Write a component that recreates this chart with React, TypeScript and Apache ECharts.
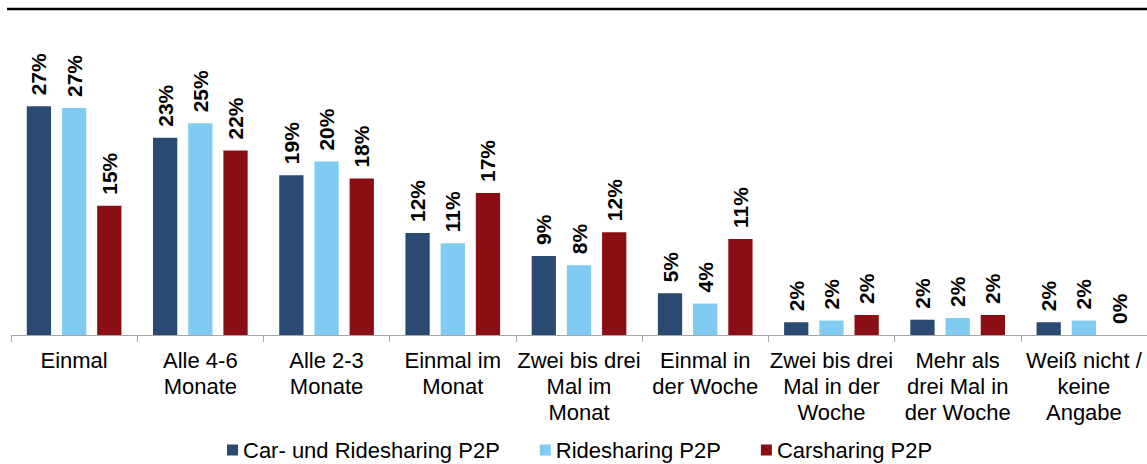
import React, { useEffect, useRef } from "react";
import * as echarts from "echarts";

const categories = [
  "Einmal",
  "Alle 4-6\nMonate",
  "Alle 2-3\nMonate",
  "Einmal im\nMonat",
  "Zwei bis drei\nMal im\nMonat",
  "Einmal in\nder Woche",
  "Zwei bis drei\nMal in der\nWoche",
  "Mehr als\ndrei Mal in\nder Woche",
  "Weiß nicht /\nkeine\nAngabe",
];

const seriesNames = ["Car- und Ridesharing P2P", "Ridesharing P2P", "Carsharing P2P"];
const carRide = [26.9, 23.2, 18.8, 12.0, 9.3, 4.9, 1.5, 1.8, 1.5];
const ride = [26.7, 24.9, 20.4, 10.8, 8.2, 3.7, 1.7, 2.0, 1.7];
const car = [15.2, 21.7, 18.4, 16.7, 12.1, 11.3, 2.35, 2.35, 0];
const colors = ["#294A71", "#7FCBF1", "#8C0E15"];

const FONT = "'Liberation Sans', Arial, sans-serif";

export default function App() {
  const ref = useRef<HTMLDivElement>(null);
  useEffect(() => {
    if (!ref.current) return;
    const chart = echarts.init(ref.current, null, { renderer: "svg" });
    const data = [carRide, ride, car];
    chart.setOption({
      animation: false,
      textStyle: { fontFamily: FONT },
      grid: { left: 11, right: 0, top: 80, bottom: 129, containLabel: false },
      legend: {
        left: 227,
        top: 439,
        padding: 0,
        itemWidth: 11,
        itemHeight: 11,
        itemGap: 40,
        icon: "rect",
        textStyle: { fontSize: 22, lineHeight: 22, color: "#000", fontFamily: FONT },
        data: seriesNames,
      },
      xAxis: {
        type: "category",
        data: categories,
        axisLine: { lineStyle: { color: "#A6A6A6", width: 1 } },
        axisTick: { show: true, length: 7, lineStyle: { color: "#A6A6A6" } },
        axisLabel: {
          interval: 0,
          color: "#000",
          fontSize: 22,
          lineHeight: 26,
          margin: 12,
          fontFamily: FONT,
        },
      },
      yAxis: {
        type: "value",
        min: 0,
        max: 30,
        show: false,
        splitLine: { show: false },
      },
      series: data.map((d, i) => ({
        name: seriesNames[i],
        type: "bar",
        data: d,
        barGap: "45%",
        barCategoryGap: "25%",
        itemStyle: { color: colors[i] },
        label: {
          show: true,
          position: "top",
          rotate: 90,
          align: "left",
          verticalAlign: "middle",
          distance: 11,
          fontSize: 21,
          fontWeight: "bold",
          color: "#000",
          fontFamily: FONT,
          formatter: (p: any) => Math.round(p.value) + "%",
        },
      })),
      graphic: [
        {
          type: "line",
          shape: { x1: 7, y1: 9, x2: 1147, y2: 9 },
          style: { stroke: "#000", lineWidth: 2.5 },
        },
      ],
    });
    return () => chart.dispose();
  }, []);
  return (
    <div
      ref={ref}
      style={{ position: "absolute", left: 0, top: 0, width: 1147, height: 464, background: "#fff" }}
    />
  );
}
